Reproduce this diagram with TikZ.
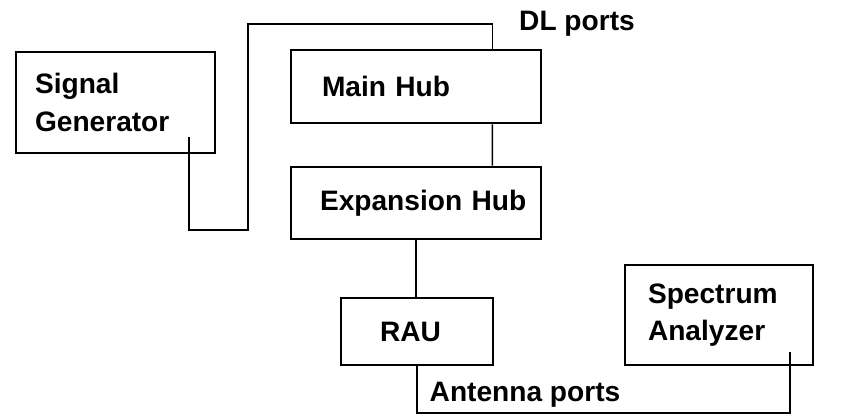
\documentclass[tikz,border=0pt]{standalone}
\usepackage{fontspec}
\setmainfont{Liberation Sans}
\usetikzlibrary{positioning}

\tikzset{
  unit/.style={draw, line width=1.6pt, align=left, font=\bfseries\fontsize{16}{21.5}\selectfont},
  wire/.style={line width=0.8pt},
  tag/.style={font=\bfseries\fontsize{16}{21.5}\selectfont}
}

\begin{document}
\begin{tikzpicture}[x=0.02cm, y=-0.02cm]

\useasboundingbox (0,0) rectangle (848,416);

\node[unit, text width=3.22cm, inner xsep=0.38cm, minimum height=2.02cm] (siggen) at (115.5,102.5) {Signal\\Generator};
\node[unit, text width=3.76cm, inner xsep=0.62cm, minimum height=1.46cm] (mainhub) at (416,86.5) {Main Hub};
\node[unit, text width=3.84cm, inner xsep=0.58cm, minimum height=1.44cm] (exphub) at (416,203) {Expansion~Hub};
\node[unit, text width=1.48cm, inner xsep=0.78cm, minimum height=1.34cm] (rau) at (417,331.5) {RAU};
\node[unit, text width=2.84cm, inner xsep=0.46cm, minimum height=2cm] (specan) at (719,315) {Spectrum\\Analyzer};

\node[tag] (dllabel) at (577,24) {DL ports};
\node[tag] (antlabel) at (525,395) {Antenna ports};

\coordinate (dltop) at (248,24);
\coordinate (dlbend) at (189,230);
\coordinate (sgport) at (189,137);
\coordinate (antbend) at (790,413);
\coordinate (saport) at (790,352);

\draw[wire] ([xshift=-1cm]mainhub.north east) |- (dltop) |- (dlbend) -- (sgport);
\draw[wire] ([xshift=-1cm]mainhub.south east) -- ([xshift=-1cm]exphub.north east);
\draw[wire] (exphub.south) -- (exphub.south |- rau.north);
\draw[wire] (rau.south) |- (antbend) -- (saport);

\end{tikzpicture}
\end{document}
